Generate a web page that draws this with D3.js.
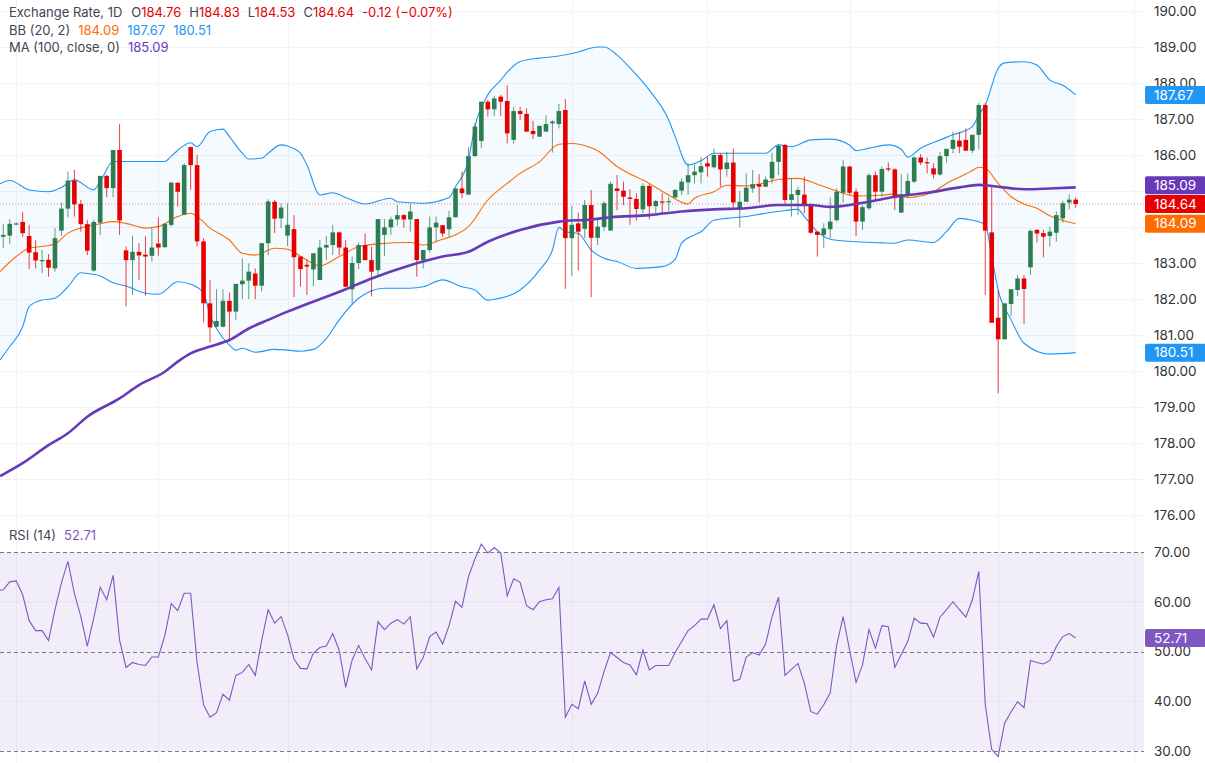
<!DOCTYPE html>
<html><head><meta charset="utf-8">
<script src="https://cdn.jsdelivr.net/npm/d3@7"></script>
<style>
html,body{margin:0;padding:0;background:#fff;}
svg{display:block;font-family:Inter,"Noto Sans",Roboto,sans-serif;}
</style></head>
<body>
<svg id="c" width="1205" height="763"></svg>
<script>
// ---- data (daily candles, oldest -> newest) ----
const opens  = [183.73,183.76,184.07,184.14,183.75,183.30,183.07,183.09,182.85,183.90,184.51,185.29,184.64,184.08,182.79,184.12,185.42,185.08,186.14,183.35,183.08,183.31,183.23,183.20,183.54,183.44,184.06,185.23,184.34,186.22,185.72,183.60,181.88,181.23,181.23,181.95,181.65,182.41,182.51,182.71,182.37,183.55,184.70,184.24,183.76,183.94,183.18,182.95,182.82,182.53,183.43,183.50,183.85,183.43,182.27,183.00,183.50,183.08,182.80,183.78,183.99,184.21,184.33,184.21,184.22,183.08,183.36,183.99,184.05,183.94,184.27,185.07,184.90,185.97,186.39,187.48,187.27,187.62,187.50,186.42,187.22,187.14,186.67,186.51,186.65,186.88,186.86,187.25,183.69,184.10,183.95,184.61,183.70,184.00,183.90,185.07,185.01,184.82,184.78,184.49,185.14,184.58,184.71,184.70,184.82,185.01,185.24,185.44,185.52,185.77,185.66,186.00,185.61,185.79,184.49,184.70,185.07,185.19,185.12,185.35,185.81,186.28,184.75,184.89,184.90,184.61,183.87,183.78,183.94,184.19,184.95,185.68,184.98,184.15,184.52,185.44,184.98,185.63,185.60,184.40,184.91,185.26,185.93,185.80,185.63,185.46,185.97,186.17,186.40,186.42,186.12,186.56,187.39,183.85,181.48,180.88,181.86,182.25,182.57,182.88,183.92,183.83,183.75,183.84,184.24,184.68,184.76];
const highs  = [184.09,184.22,184.12,184.41,184.06,183.64,183.36,183.25,183.97,184.68,185.54,185.59,184.75,184.20,184.20,185.42,185.45,186.14,186.86,183.46,183.76,183.55,183.75,183.97,184.27,184.09,185.26,185.23,185.77,186.22,186.00,183.69,182.53,182.27,182.27,182.18,182.42,183.13,182.99,182.85,183.55,184.77,184.75,184.66,184.66,184.33,183.18,183.10,183.27,183.64,183.75,184.06,183.87,183.64,183.18,183.57,183.82,183.45,184.22,184.22,184.29,184.61,184.36,184.64,184.22,183.36,184.29,184.29,184.05,184.45,185.07,185.54,186.21,186.88,187.48,187.53,187.64,187.67,187.94,187.34,187.34,187.30,186.95,186.81,187.11,186.97,187.42,187.55,184.59,184.40,184.75,185.03,184.19,184.72,185.26,185.44,185.26,185.05,184.94,185.21,185.19,184.75,184.94,184.84,185.05,185.35,185.77,185.72,185.95,185.95,186.18,186.05,186.09,186.18,185.00,185.49,185.58,185.47,185.40,186.06,186.31,186.31,185.35,185.12,185.40,184.61,183.87,184.10,184.82,185.07,185.86,185.68,185.07,184.61,185.49,185.54,185.68,185.79,185.63,185.47,185.49,185.96,186.03,185.93,185.77,186.09,186.17,186.65,186.62,186.74,186.56,187.45,187.44,185.17,182.23,181.88,182.27,182.67,182.67,183.94,183.94,183.92,184.01,184.43,184.73,184.91,184.83];
const lows   = [183.41,183.53,184.05,183.73,182.83,182.85,182.72,182.62,182.76,183.75,184.27,184.29,183.87,183.22,182.76,183.78,184.83,184.83,183.78,181.79,182.11,182.53,182.09,183.04,183.20,183.41,184.01,184.57,184.34,185.03,183.46,181.35,180.79,181.21,181.21,180.82,181.42,182.00,182.00,182.00,182.21,183.22,183.83,183.97,183.47,182.05,182.34,182.11,182.36,182.53,183.08,183.22,183.22,182.34,181.88,182.83,183.08,182.07,182.62,183.20,183.78,184.04,183.98,183.87,182.62,182.85,183.29,183.59,183.73,183.73,184.27,184.80,184.90,185.95,186.19,187.07,187.08,187.08,186.32,186.32,186.97,186.65,186.44,186.51,186.65,186.07,186.74,182.28,182.64,182.79,183.69,182.05,183.50,183.89,183.90,184.47,184.61,184.06,184.18,184.38,184.21,184.33,184.38,184.45,184.80,184.89,184.89,185.21,185.21,185.40,185.63,185.12,185.40,184.52,183.99,184.70,184.95,184.68,185.12,185.21,185.44,184.61,184.29,184.33,184.38,183.81,183.18,183.41,183.69,184.15,184.68,184.89,183.75,183.92,184.47,184.70,184.84,185.54,184.47,184.40,184.80,185.22,185.72,185.49,185.35,185.42,185.79,186.05,186.05,186.12,186.05,186.16,182.11,181.34,179.38,180.88,181.53,182.08,181.31,182.67,183.57,183.16,183.45,183.59,184.12,184.49,184.53];
const closes = [183.78,184.09,184.10,183.83,183.29,183.07,183.08,182.87,183.69,184.51,185.29,184.63,184.08,183.34,184.14,185.42,185.08,186.14,184.18,183.08,183.31,183.21,183.18,183.43,183.43,184.09,185.23,184.98,185.72,185.72,183.60,181.88,181.21,181.39,181.95,181.65,182.42,182.51,182.76,182.37,183.55,184.71,184.23,184.54,184.06,183.16,182.83,182.90,183.27,183.43,183.50,183.85,183.43,182.34,183.00,183.50,183.08,182.76,184.22,183.99,184.21,184.33,184.21,184.43,183.08,183.36,183.99,184.12,183.82,184.27,185.07,184.94,185.97,186.79,187.48,187.27,187.57,187.48,186.60,187.22,187.14,186.65,186.58,186.81,186.86,186.93,187.22,183.69,184.06,183.87,184.61,183.70,184.01,184.66,185.20,185.00,184.84,184.78,184.50,185.14,184.58,184.72,184.69,184.72,185.03,185.26,185.44,185.54,185.69,185.68,186.00,185.60,185.79,184.68,184.70,185.09,185.19,185.12,185.32,185.81,186.25,184.75,184.91,185.03,184.61,183.84,183.78,183.96,184.15,184.98,185.68,184.95,184.15,184.55,185.44,184.98,185.61,185.60,184.80,184.91,185.28,185.93,185.79,185.78,185.46,185.97,186.17,186.42,186.23,186.12,186.56,187.39,183.90,181.34,180.88,181.88,182.27,182.57,182.28,183.89,183.82,183.73,183.87,184.33,184.66,184.76,184.64];

// Bollinger Bands (20,2): [candle index, value]
const bbUpper = [[-0.5,185.20],[1,185.29],[4,185.03],[7,184.98],[9,185.10],[11,185.31],[14,185.03],[15,185.26],[17,185.82],[25,185.82],[26,185.97],[29,186.34],[30,186.23],[32,186.65],[34,186.72],[35,186.51],[37,186.05],[38,185.89],[40,185.91],[41,186.05],[43,186.28],[44,186.25],[46,186.05],[47,185.72],[49,184.89],[51,184.95],[53,184.82],[56,184.64],[60,184.80],[61,184.70],[65,184.66],[69,184.82],[70,185.12],[72,185.86],[73,186.79],[75,187.67],[77,188.08],[78,188.30],[80,188.60],[83,188.69],[86,188.75],[89,188.86],[92,189.00],[93,189.00],[95,188.78],[97,188.42],[100,187.80],[103,186.97],[104,186.51],[106,185.72],[108,185.84],[110,186.05],[118,186.05],[120,186.28],[122,186.23],[125,186.42],[128,186.44],[131,186.28],[132,186.12],[134,186.19],[137,186.28],[139,186.16],[140,185.94],[142,186.19],[145,186.42],[147,186.56],[150,186.79],[151,187.11],[152,187.39],[154,188.41],[155,188.56],[158,188.59],[160,188.50],[162,188.08],[164,187.94],[166,187.67]];
const bbMiddle = [[-0.5,182.76],[2,183.18],[4,183.41],[6,183.46],[8,183.53],[10,183.83],[12,183.97],[15,184.09],[17,184.15],[19,184.10],[22,183.97],[24,184.01],[27,184.29],[29,184.38],[30,184.29],[32,183.97],[35,183.64],[37,183.27],[39,183.22],[42,183.41],[44,183.38],[46,183.19],[47,183.08],[49,182.92],[52,183.18],[55,183.45],[58,183.53],[63,183.57],[65,183.50],[68,183.66],[70,183.78],[72,184.01],[75,184.75],[78,185.21],[80,185.49],[83,185.81],[86,186.30],[88,186.32],[91,186.20],[92,186.12],[95,185.68],[100,185.21],[103,184.89],[106,184.64],[107,184.80],[110,184.98],[112,185.16],[115,185.14],[118,185.23],[120,185.32],[123,185.35],[126,185.19],[129,185.00],[132,184.86],[136,184.88],[138,184.92],[140,184.82],[144,184.98],[146,185.21],[149,185.47],[150,185.57],[151,185.66],[152,185.63],[154,185.21],[156,184.84],[158,184.64],[160,184.52],[162,184.31],[166,184.09]];
const bbLower = [[-0.5,180.31],[1,180.68],[3,181.23],[4,181.79],[6,181.97],[8,182.02],[10,182.34],[12,182.73],[13,182.71],[15,182.64],[17,182.45],[19,182.36],[22,182.16],[24,182.13],[27,182.48],[29,182.41],[31,182.16],[32,181.55],[33,181.18],[35,180.72],[36,180.58],[37,180.63],[39,180.52],[42,180.60],[44,180.58],[46,180.55],[48,180.60],[50,180.90],[52,181.42],[55,182.02],[59,182.30],[63,182.30],[65,182.34],[68,182.53],[71,182.34],[73,182.25],[75,181.97],[76,181.99],[80,182.25],[83,182.80],[85,183.36],[86,183.99],[87,183.87],[89,183.82],[91,183.36],[93,183.13],[95,183.04],[98,182.85],[102,182.90],[104,183.10],[105,183.55],[107,183.78],[108,183.87],[110,184.19],[112,184.24],[115,184.29],[118,184.38],[120,184.43],[123,184.49],[124,184.29],[126,183.87],[128,183.66],[132,183.59],[136,183.56],[138,183.55],[140,183.64],[144,183.57],[146,183.87],[148,184.24],[150,184.19],[152,184.06],[153,183.18],[154,182.25],[156,181.42],[158,180.77],[162,180.47],[166,180.51]];
// Moving average (100, close)
const ma100 = [[-0.5,177.08],[3,177.44],[7,177.94],[10,178.27],[13,178.73],[18,179.24],[21,179.61],[25,179.98],[27,180.26],[29,180.49],[32,180.68],[35,180.86],[38,181.18],[41,181.42],[44,181.65],[46,181.79],[50,182.06],[53,182.27],[57,182.57],[63,182.94],[68,183.18],[72,183.31],[75,183.59],[80,183.92],[86,184.15],[91,184.21],[94,184.27],[100,184.33],[105,184.43],[110,184.49],[115,184.52],[120,184.61],[125,184.61],[128,184.56],[132,184.64],[136,184.77],[138,184.84],[143,184.95],[148,185.10],[151,185.17],[153,185.14],[158,185.05],[162,185.07],[166,185.10]];
// RSI (14), one value per candle
const rsi = [62.4,64.0,64.2,61.4,56.2,54.2,54.2,52.2,58.4,63.8,68.1,61.7,57.0,51.1,56.7,62.9,60.4,65.3,52.3,46.8,47.8,47.4,47.2,48.9,48.9,53.2,59.6,58.2,61.7,61.7,47.7,39.3,36.8,37.7,41.4,40.2,45.2,45.8,47.4,45.2,52.3,58.4,55.7,57.0,53.4,48.5,46.6,46.5,49.7,50.8,51.1,53.6,50.2,42.8,48.3,51.2,48.6,46.3,56.0,54.4,55.7,56.4,55.5,57.0,46.5,48.8,53.0,53.9,51.5,55.2,60.1,58.9,65.0,68.6,71.6,69.8,70.9,69.8,61.2,64.6,63.9,59.2,58.4,60.0,60.4,60.6,62.9,36.8,39.4,38.5,44.1,39.4,41.6,46.0,49.8,48.8,47.8,47.3,45.3,50.3,46.3,47.2,47.2,47.2,49.8,52.0,54.2,55.2,56.5,56.5,59.4,54.6,56.2,44.0,44.4,48.9,49.8,49.3,51.5,57.0,60.9,45.2,46.4,47.6,43.6,37.9,37.4,39.3,41.7,51.3,57.0,50.3,43.8,47.3,54.4,50.7,55.2,55.0,46.8,49.4,52.0,56.7,55.7,55.6,52.9,56.9,58.4,60.0,58.4,56.9,60.4,66.1,39.3,30.3,28.9,35.6,37.9,39.9,38.7,48.2,47.8,47.5,48.2,51.0,53.0,53.6,52.71];
const rsiStart = 62.3; // value at the left edge
// month-start candle indices (vertical grid)
const monthStarts = [2,24,44,66,88,109,131,154,175];
const priceTicks = [176,177,178,179,180,181,182,183,184,185,186,187,188,189,190];
const rsiTicks = [30,40,50,60,70];
const last = {o:184.76,h:184.83,l:184.53,c:184.64,chg:"-0.12 (\u22120.07%)"};
const bbLast = {mid:184.09, up:187.67, lo:180.51};
const maLast = 185.09;
const rsiLast = 52.71;

// ---- drawing ----
const svg = d3.select("#c");
const W = 1205, plotRight = 1144;
const GREEN = "#2e7d52", RED = "#e60000", BLUE = "#2196f3", ORANGE = "#ff6d00", PURPLE = "#673ab7", RSIC = "#7e57c2";
const x = d3.scaleLinear().domain([0, 166]).range([3.3, 1075.7]);
const y = d3.scaleLinear().domain([176, 190]).range([515, 11]);
const yr = d3.scaleLinear().domain([30, 70]).range([751, 552]);
const fmt = d3.format(".2f");

// grid
const g = svg.append("g");
g.selectAll(".hg").data(priceTicks).join("line")
  .attr("x1",0).attr("x2",plotRight).attr("y1",d=>Math.round(y(d))+0.5).attr("y2",d=>Math.round(y(d))+0.5)
  .attr("stroke","#f0f3fa").attr("stroke-width",1);
g.selectAll(".vg").data(monthStarts).join("line")
  .attr("x1",d=>Math.round(x(d))+0.5).attr("x2",d=>Math.round(x(d))+0.5).attr("y1",0).attr("y2",763)
  .attr("stroke","#f0f3fa").attr("stroke-width",1);

// RSI background band
svg.append("rect").attr("x",0).attr("y",yr(70)).attr("width",plotRight).attr("height",yr(30)-yr(70))
  .attr("fill","rgba(126,87,194,0.1)");
svg.selectAll(".rg").data([60,40]).join("line")
  .attr("x1",0).attr("x2",plotRight).attr("y1",d=>yr(d)).attr("y2",d=>yr(d))
  .attr("stroke","rgba(126,87,194,0.08)");
svg.selectAll(".rd").data([70,50,30]).join("line")
  .attr("x1",0).attr("x2",plotRight).attr("y1",d=>Math.round(yr(d))+0.5).attr("y2",d=>Math.round(yr(d))+0.5)
  .attr("stroke","#787b86").attr("stroke-dasharray","4,3").attr("stroke-width",1);

// BB fill
const pts = bbUpper.map(d=>[x(d[0]),y(d[1])]).concat(bbLower.slice().reverse().map(d=>[x(d[0]),y(d[1])]));
svg.append("path").attr("d", d3.line()(pts)+"Z").attr("fill","rgba(33,150,243,0.05)");

const ln = d3.line().x(d=>x(d[0])).y(d=>y(d[1])).curve(d3.curveMonotoneX);
svg.append("path").attr("d",ln(bbUpper)).attr("fill","none").attr("stroke",BLUE).attr("stroke-width",1.1);
svg.append("path").attr("d",ln(bbLower)).attr("fill","none").attr("stroke",BLUE).attr("stroke-width",1.1);
svg.append("path").attr("d",ln(bbMiddle)).attr("fill","none").attr("stroke",ORANGE).attr("stroke-width",1.1);

// last price dotted line
svg.append("line").attr("x1",0).attr("x2",plotRight).attr("y1",y(last.c)).attr("y2",y(last.c))
  .attr("stroke","rgba(230,0,0,0.45)").attr("stroke-dasharray","1,2").attr("stroke-width",1);

// candles
const idx = d3.range(opens.length);
const bw = 4.6;
const cg = svg.append("g");
cg.selectAll(".wick").data(idx).join("line")
  .attr("x1",i=>x(i)).attr("x2",i=>x(i)).attr("y1",i=>y(highs[i])).attr("y2",i=>y(lows[i]))
  .attr("stroke",i=>closes[i]>=opens[i]?GREEN:RED).attr("stroke-width",1).attr("stroke-opacity",0.75);
cg.selectAll(".body").data(idx).join("rect")
  .attr("x",i=>x(i)-bw/2).attr("width",bw)
  .attr("y",i=>y(Math.max(opens[i],closes[i])))
  .attr("height",i=>Math.max(1.2, Math.abs(y(opens[i])-y(closes[i]))))
  .attr("fill",i=>closes[i]>=opens[i]?GREEN:RED);

// MA on top
svg.append("path").attr("d",ln(ma100)).attr("fill","none").attr("stroke",PURPLE).attr("stroke-width",2.6);

// RSI line
const rsiPts = [[-0.5,rsiStart]].concat(rsi.map((v,i)=>[i,v]));
const rl = d3.line().x(d=>x(d[0])).y(d=>yr(d[1]));
svg.append("path").attr("d",rl(rsiPts)).attr("fill","none").attr("stroke",RSIC).attr("stroke-width",1.1);

// price tags (values drawn as tags on the right axis)
const tags = [
  {v:bbLast.up, c:BLUE, s:y, off:0},
  {v:maLast, c:PURPLE, s:y, off:-2.5},
  {v:last.c, c:RED, s:y, off:0},
  {v:bbLast.mid, c:ORANGE, s:y, off:0},
  {v:bbLast.lo, c:BLUE, s:y, off:0},
  {v:rsiLast, c:RSIC, s:yr, off:0}
];
// axis tick labels that sit mostly under a tag are hidden, as on the reference
const hiddenTicks = priceTicks.filter(t => tags.some(tg => tg.s===y && Math.abs(y(t) - (y(tg.v)+tg.off)) < 9));

// axes (right)
const ax = svg.append("g").attr("transform",`translate(${plotRight+2},0)`)
  .call(d3.axisRight(y).tickValues(priceTicks.filter(t=>!hiddenTicks.includes(t))).tickFormat(fmt).tickSize(0).tickPadding(8));
const axr = svg.append("g").attr("transform",`translate(${plotRight+2},0)`)
  .call(d3.axisRight(yr).tickValues(rsiTicks).tickFormat(fmt).tickSize(0).tickPadding(8));
[ax,axr].forEach(a=>{a.select(".domain").remove();
  a.selectAll("text").attr("fill","#333").style("font-size","13.5px").style("font-family","Inter,'Noto Sans',sans-serif");});

tags.forEach(tg=>{
  const gy = tg.s(tg.v)+tg.off;
  const t = svg.append("g").attr("transform",`translate(${plotRight+1},${gy})`);
  t.append("rect").attr("x",0).attr("y",-9).attr("width",W-plotRight).attr("height",18).attr("rx",2).attr("fill",tg.c);
  t.append("text").attr("x",9).attr("y",0).attr("dy","0.35em").attr("fill","#fff")
    .style("font-size","13.5px").text(fmt(tg.v));
});

// legends
const lg = svg.append("g").style("font-size","13px");
const t1 = lg.append("text").attr("x",9).attr("y",17);
t1.append("tspan").attr("fill","#434651").text("Exchange Rate, 1D");
[["O",last.o],["H",last.h],["L",last.l],["C",last.c]].forEach(([k,v],j)=>{
  t1.append("tspan").attr("fill","#434651").attr("dx",j===0?9:8).text(k);
  t1.append("tspan").attr("fill",RED).text(fmt(v));
});
t1.append("tspan").attr("fill",RED).attr("dx",8).text(last.chg);
const t2 = lg.append("text").attr("x",9).attr("y",35);
t2.append("tspan").attr("fill","#434651").text("BB (20, 2)");
t2.append("tspan").attr("fill",ORANGE).attr("dx",8).text(fmt(bbLast.mid));
t2.append("tspan").attr("fill",BLUE).attr("dx",8).text(fmt(bbLast.up));
t2.append("tspan").attr("fill",BLUE).attr("dx",8).text(fmt(bbLast.lo));
const t3 = lg.append("text").attr("x",9).attr("y",52);
t3.append("tspan").attr("fill","#434651").text("MA (100, close, 0)");
t3.append("tspan").attr("fill",PURPLE).attr("dx",8).text(fmt(maLast));
const t4 = lg.append("text").attr("x",9).attr("y",540);
t4.append("tspan").attr("fill","#434651").text("RSI (14)");
t4.append("tspan").attr("fill",RSIC).attr("dx",8).text(fmt(rsiLast));
</script>
</body></html>
